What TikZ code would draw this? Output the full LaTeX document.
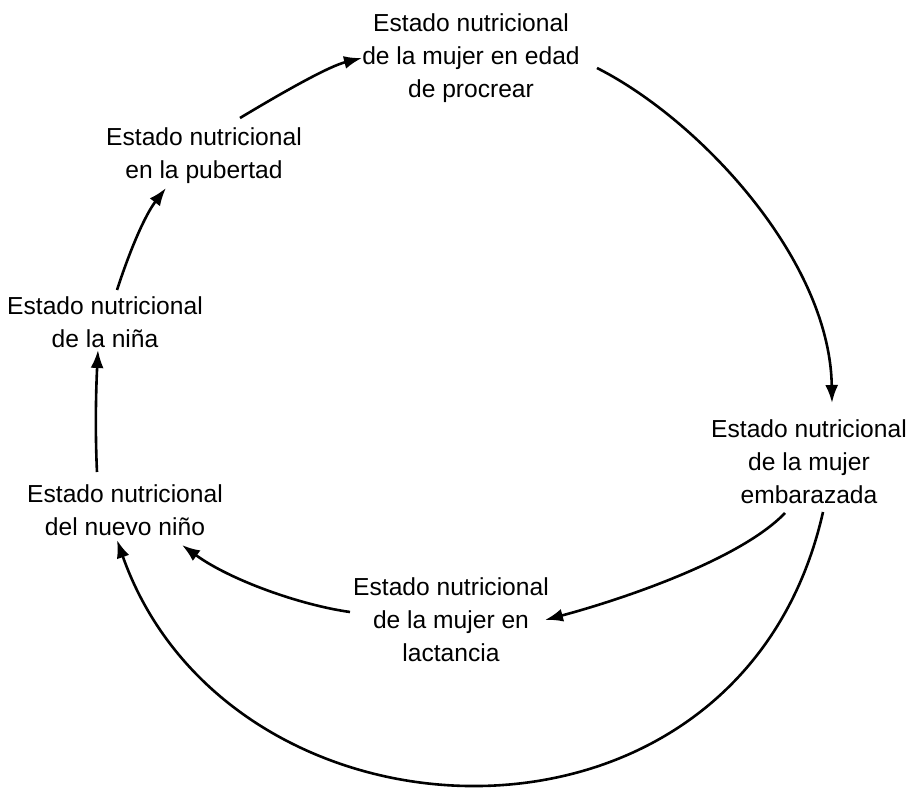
\documentclass[tikz,border=0pt]{standalone}
\usepackage{fontspec}
\setmainfont{Liberation Sans}
\usetikzlibrary{arrows.meta,calc}

\begin{document}
\begin{tikzpicture}[x=0.5pt,y=-0.5pt,
		estado/.style={align=center,inner sep=0pt,font=\fontsize{12.3}{16.5}\selectfont},
		flecha/.style={line width=1.3pt,-{Latex[length=9pt,width=6.5pt]}}]
			\useasboundingbox (0,0) rectangle (911,791);
			\node[estado] (mujer) at (471,58) {Estado nutricional\\de la mujer en edad\\de procrear};
			\node[estado] (pubertad) at (204,156) {Estado nutricional\\en la pubertad};
			\node[estado] (nina) at (105,322) {Estado nutricional\\de la niña};
			\node[estado] (nuevo) at (125,510) {Estado nutricional\\del nuevo niño};
			\node[estado] (embarazada) at (809,462) {Estado nutricional\\de la mujer\\embarazada};
			\node[estado] (lactancia) at (451,620) {Estado nutricional\\de la mujer en\\lactancia};
			\draw[flecha] ($(pubertad)+(36,-38)$) .. controls (290,88) and (330,66) .. ($(mujer)+(-109,0)$);
			\draw[flecha] ($(mujer)+(126,10)$) .. controls (700,120) and (830,260) .. ($(embarazada)+(23,-59)$);
			\draw[flecha] ($(embarazada)+(-24,51)$) .. controls (740,560) and (620,600) .. ($(lactancia)+(94,0)$);
			\draw[flecha] ($(embarazada)+(14,50)$) .. controls (740,880) and (230,860) .. ($(nuevo)+(-8,30)$);
			\draw[flecha] ($(lactancia)+(-101,-8)$) .. controls (300,605) and (230,580) .. ($(nuevo)+(57,35)$);
			\draw[flecha] ($(nuevo)+(-28,-38)$) .. controls (95,430) and (96,390) .. ($(nina)+(-7,28)$);
			\draw[flecha] ($(nina)+(12,-32)$) .. controls (130,250) and (145,215) .. ($(pubertad)+(-38,32)$);
		\end{tikzpicture}
\end{document}
